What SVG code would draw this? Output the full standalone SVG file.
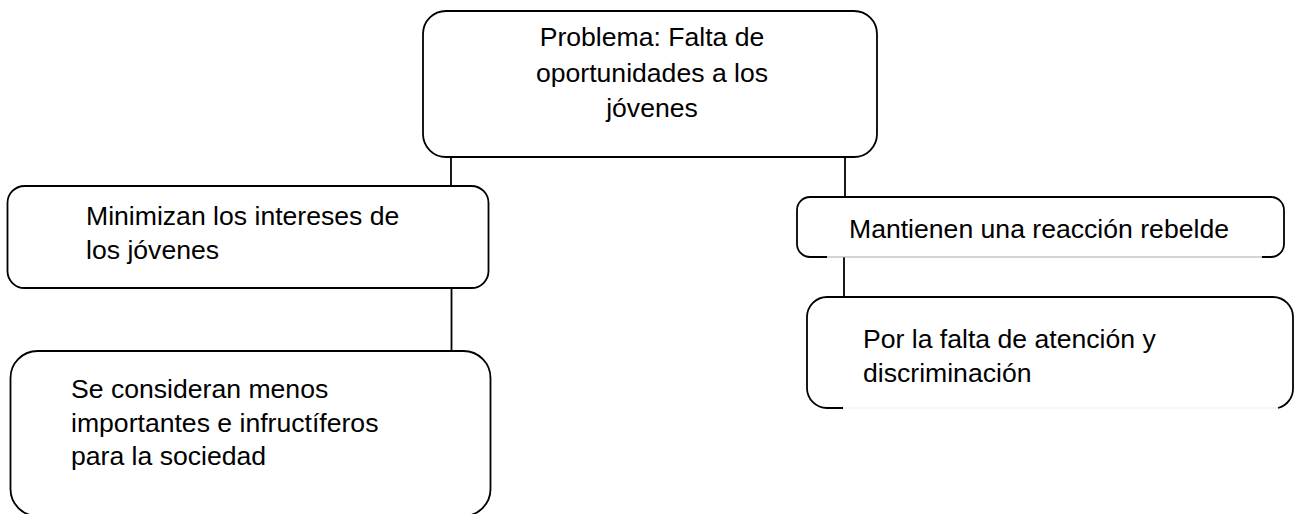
<svg xmlns="http://www.w3.org/2000/svg" width="1294" height="514" viewBox="0 0 1294 514">
<style>
.box{fill:#fff;stroke:#000;stroke-width:1.8}
.edge{fill:none;stroke:#000;stroke-width:1.8}
.faint{fill:none;stroke:#aaa;stroke-width:1}
.faint2{fill:none;stroke:#eee;stroke-width:1}
.t{font-family:"Liberation Sans",Arial,sans-serif;font-size:26.6px;fill:#000}
.c{text-anchor:middle}
</style>
<rect width="1294" height="514" fill="#fff"/>
<g id="connectors">
<line class="edge" x1="451" y1="157" x2="451" y2="186"/>
<line class="edge" x1="845" y1="157" x2="845" y2="197"/>
<line class="edge" x1="451.5" y1="288" x2="451.5" y2="351"/>
<line class="edge" x1="844" y1="257" x2="844" y2="297"/>
</g>
<g id="node-problema">
<rect class="box" x="423" y="11" width="454" height="146" rx="23" ry="23"/>
<text class="t c" x="652" y="46">Problema: Falta de</text>
<text class="t c" x="652" y="82">oportunidades a los</text>
<text class="t c" x="652" y="117">jóvenes</text>
</g>
<g id="node-minimizan">
<rect class="box" x="7.5" y="186" width="481" height="102" rx="17" ry="17"/>
<text class="t" x="86" y="225">Minimizan los intereses de</text>
<text class="t" x="86" y="259">los jóvenes</text>
</g>
<g id="node-consideran">
<rect class="box" x="10.5" y="351" width="480" height="165" rx="27" ry="27"/>
<text class="t" x="71" y="398">Se consideran menos</text>
<text class="t" x="71" y="432">importantes e infructíferos</text>
<text class="t" x="71" y="465">para la sociedad</text>
</g>
<g id="node-rebelde">
<path class="edge" d="M827 257 H810 A13 13 0 0 1 797 244 V210 A13 13 0 0 1 810 197 H1271 A13 13 0 0 1 1284 210 V244 A13 13 0 0 1 1271 257 H1262"/>
<line class="faint" x1="827" y1="257" x2="1262" y2="257"/>
<text class="t" x="849" y="238">Mantienen una reacción rebelde</text>
</g>
<g id="node-discriminacion">
<path class="edge" d="M843 408 H827 A20 20 0 0 1 807 388 V317 A20 20 0 0 1 827 297 H1273 A20 20 0 0 1 1293 317 V388 A20 20 0 0 1 1278 408"/>
<line class="faint2" x1="843" y1="408" x2="1276" y2="408"/>
<text class="t" x="863" y="348">Por la falta de atención y</text>
<text class="t" x="863" y="382">discriminación</text>
</g>
</svg>
